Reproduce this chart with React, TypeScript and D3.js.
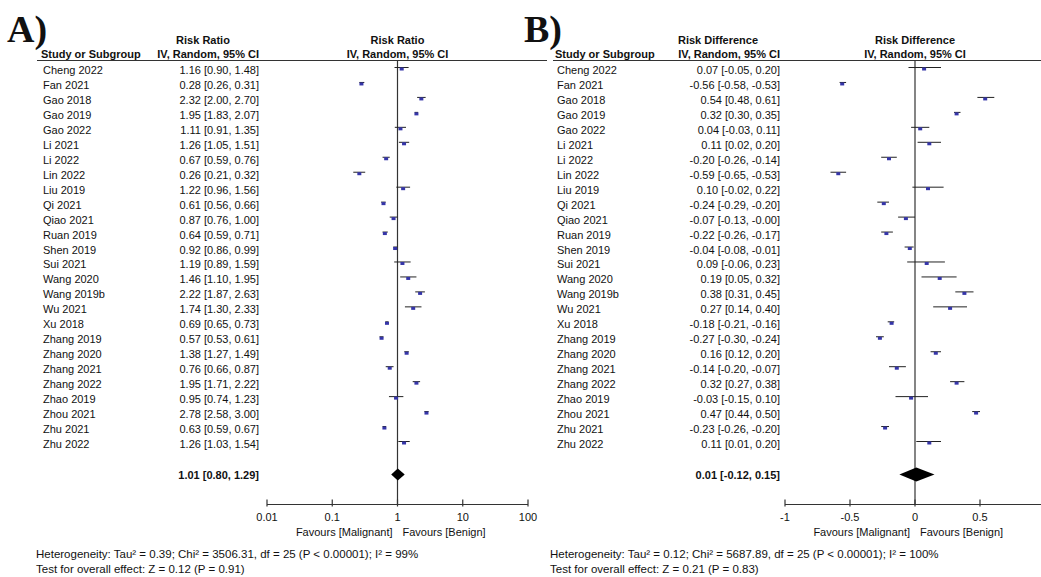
import React from "react";
import * as d3 from "d3";

const studies = [
  "Cheng 2022", "Fan 2021", "Gao 2018", "Gao 2019", "Gao 2022", "Li 2021", "Li 2022",
  "Lin 2022", "Liu 2019", "Qi 2021", "Qiao 2021", "Ruan 2019", "Shen 2019", "Sui 2021",
  "Wang 2020", "Wang 2019b", "Wu 2021", "Xu 2018", "Zhang 2019", "Zhang 2020", "Zhang 2021",
  "Zhang 2022", "Zhao 2019", "Zhou 2021", "Zhu 2021", "Zhu 2022",
];

const rrEst = [1.16, 0.28, 2.32, 1.95, 1.11, 1.26, 0.67, 0.26, 1.22, 0.61, 0.87, 0.64, 0.92, 1.19, 1.46, 2.22, 1.74, 0.69, 0.57, 1.38, 0.76, 1.95, 0.95, 2.78, 0.63, 1.26];
const rrLo = [0.90, 0.26, 2.00, 1.83, 0.91, 1.05, 0.59, 0.21, 0.96, 0.56, 0.76, 0.59, 0.86, 0.89, 1.10, 1.87, 1.30, 0.65, 0.53, 1.27, 0.66, 1.71, 0.74, 2.58, 0.59, 1.03];
const rrHi = [1.48, 0.31, 2.70, 2.07, 1.35, 1.51, 0.76, 0.32, 1.56, 0.66, 1.00, 0.71, 0.99, 1.59, 1.95, 2.63, 2.33, 0.73, 0.61, 1.49, 0.87, 2.22, 1.23, 3.00, 0.67, 1.54];
const rrTotal = [1.01, 0.80, 1.29];

const rdEst = [0.07, -0.56, 0.54, 0.32, 0.04, 0.11, -0.20, -0.59, 0.10, -0.24, -0.07, -0.22, -0.04, 0.09, 0.19, 0.38, 0.27, -0.18, -0.27, 0.16, -0.14, 0.32, -0.03, 0.47, -0.23, 0.11];
const rdLo = [-0.05, -0.58, 0.48, 0.30, -0.03, 0.02, -0.26, -0.65, -0.02, -0.29, -0.13, -0.26, -0.08, -0.06, 0.05, 0.31, 0.14, -0.21, -0.30, 0.12, -0.20, 0.27, -0.15, 0.44, -0.26, 0.01];
const rdHi = [0.20, -0.53, 0.61, 0.35, 0.11, 0.20, -0.14, -0.53, 0.22, -0.20, -0, -0.17, -0.01, 0.23, 0.32, 0.45, 0.40, -0.16, -0.24, 0.20, -0.07, 0.38, 0.10, 0.50, -0.20, 0.20];
const rdTotal = [0.01, -0.12, 0.15];

const rrTicks = [0.01, 0.1, 1, 10, 100];
const rrTickLabels = ["0.01", "0.1", "1", "10", "100"];
const rdTicks = [-1, -0.5, 0, 0.5];
const rdTickLabels = ["-1", "-0.5", "0", "0.5"];

const hetA = "Heterogeneity: Tau² = 0.39; Chi² = 3506.31, df = 25 (P < 0.00001); I² = 99%";
const testA = "Test for overall effect: Z = 0.12 (P = 0.91)";
const hetB = "Heterogeneity: Tau² = 0.12; Chi² = 5687.89, df = 25 (P < 0.00001); I² = 100%";
const testB = "Test for overall effect: Z = 0.21 (P = 0.83)";

const fmt = (v: number) => (v < 0 || Object.is(v, -0) ? "-" : "") + Math.abs(v).toFixed(2);
const ciText = (e: number, l: number, h: number) => `${fmt(e)} [${fmt(l)}, ${fmt(h)}]`;

const FONT = "'Liberation Sans', Arial, sans-serif";
const SQ = "#3535a8";

const y = d3.scaleLinear().domain([0, 25]).range([69, 443]);
const yTotal = 474.5;
const yAxis = 504.5;

type PanelProps = {
  label: string;
  labelX: number;
  lineX0: number;
  lineX1: number;
  nameX: number;
  ciRight: number;
  headTitle: string;
  headTitleX: number;
  x: (v: number) => number;
  zero: number;
  est: number[];
  lo: number[];
  hi: number[];
  total: number[];
  ticks: number[];
  tickLabels: string[];
  axisX0: number;
  axisX1: number;
  het: string;
  test: string;
  footX: number;
  diamondH: number;
};

function Panel(p: PanelProps) {
  const x0 = p.x(p.zero);
  return (
    <g fontFamily={FONT} fontSize={11} fill="#111">
      <text x={p.labelX} y={42} fontFamily="'Liberation Serif', 'Times New Roman', serif" fontWeight="bold" fontSize={38}>
        {p.label}
      </text>
      <text x={p.headTitleX} y={44} fontWeight="bold" textAnchor="middle">{p.headTitle}</text>
      <text x={p.nameX} y={58} fontWeight="bold">Study or Subgroup</text>
      <text x={p.ciRight} y={58} fontWeight="bold" textAnchor="end">IV, Random, 95% CI</text>
      <text x={x0} y={44} fontWeight="bold" textAnchor="middle">{p.headTitle}</text>
      <text x={x0} y={58} fontWeight="bold" textAnchor="middle">IV, Random, 95% CI</text>
      <line x1={p.lineX0} x2={p.lineX1} y1={60.5} y2={60.5} stroke="#333" strokeWidth={1.2} />
      <line x1={x0} x2={x0} y1={60.5} y2={yAxis} stroke="#333" strokeWidth={1.2} />
      {studies.map((s, i) => (
        <g key={s}>
          <text x={p.nameX + 2} y={y(i) + 5}>{s}</text>
          <text x={p.ciRight} y={y(i) + 5} textAnchor="end">{ciText(p.est[i], p.lo[i], p.hi[i])}</text>
          <line x1={p.x(p.lo[i])} x2={p.x(p.hi[i])} y1={y(i) - 1.5} y2={y(i) - 1.5} stroke="#222" strokeWidth={1} />
          <rect x={p.x(p.est[i]) - 2} y={y(i) - 1.5} width={4} height={3} fill={SQ} />
        </g>
      ))}
      <text x={p.ciRight} y={yTotal + 4} fontWeight="bold" textAnchor="end">
        {ciText(p.total[0], p.total[1], p.total[2])}
      </text>
      <path
        d={`M${p.x(p.total[1])},${yTotal} L${p.x(p.total[0])},${yTotal - p.diamondH} L${p.x(p.total[2])},${yTotal} L${p.x(p.total[0])},${yTotal + p.diamondH} Z`}
        fill="#000"
      />
      <line x1={p.axisX0} x2={p.axisX1} y1={yAxis} y2={yAxis} stroke="#333" strokeWidth={1.2} />
      {p.ticks.map((t, i) => (
        <g key={i}>
          <line x1={p.x(t)} x2={p.x(t)} y1={yAxis - 5} y2={yAxis + 2} stroke="#333" strokeWidth={1.2} />
          <text x={p.x(t)} y={yAxis + 16} textAnchor="middle">{p.tickLabels[i]}</text>
        </g>
      ))}
      <text x={x0 - 5} y={yAxis + 31} textAnchor="end">Favours [Malignant]</text>
      <text x={x0 + 5} y={yAxis + 31}>Favours [Benign]</text>
      <text x={p.footX} y={558} fontSize={11.5}>{p.het}</text>
      <text x={p.footX} y={573} fontSize={11.5}>{p.test}</text>
    </g>
  );
}

export default function App() {
  const xA = d3.scaleLog().domain([0.01, 100]).range([267, 528]);
  const xB = d3.scaleLinear().domain([-1, 1]).range([785, 1045]);
  return (
    <svg width={1041} height={577} style={{ position: "absolute", left: 0, top: 0, background: "#fff" }}>
      <rect width={1041} height={577} fill="#fff" />
      <Panel
        label="A)" labelX={7} lineX0={37} lineX1={547} nameX={41} ciRight={259}
        headTitle="Risk Ratio" headTitleX={203} x={(v) => xA(v)} zero={1}
        est={rrEst} lo={rrLo} hi={rrHi} total={rrTotal}
        ticks={rrTicks} tickLabels={rrTickLabels} axisX0={267} axisX1={528}
        het={hetA} test={testA} footX={36} diamondH={6}
      />
      <Panel
        label="B)" labelX={524} lineX0={553} lineX1={1041} nameX={555} ciRight={780}
        headTitle="Risk Difference" headTitleX={718} x={(v) => xB(v)} zero={0}
        est={rdEst} lo={rdLo} hi={rdHi} total={rdTotal}
        ticks={rdTicks} tickLabels={rdTickLabels} axisX0={785} axisX1={1041}
        het={hetB} test={testB} footX={550} diamondH={7}
      />
    </svg>
  );
}
